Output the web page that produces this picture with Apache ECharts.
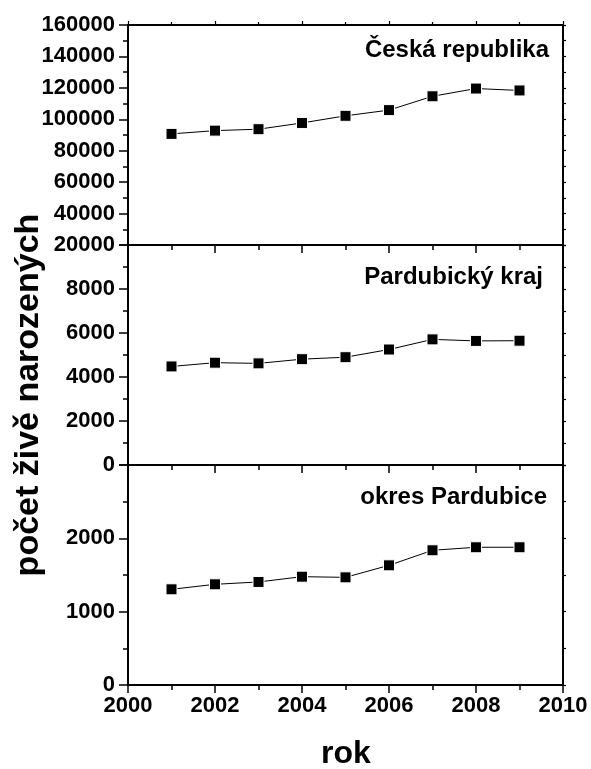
<!DOCTYPE html>
<html>
<head>
<meta charset="utf-8">
<script src="https://cdn.jsdelivr.net/npm/echarts@6/dist/echarts.min.js"></script>
<style>
html,body{margin:0;padding:0;background:#fff;}
#c{width:591px;height:769px;}
</style>
</head>
<body>
<div id="c"></div>
<script>
// Data
const years = [2001, 2002, 2003, 2004, 2005, 2006, 2007, 2008, 2009];
const ceskaRepublika = [90715, 92786, 93685, 97664, 102211, 105831, 114632, 119570, 118348];
const pardubickyKraj = [4480, 4650, 4620, 4810, 4900, 5250, 5710, 5640, 5650];
const okresPardubice = [1305, 1373, 1405, 1477, 1468, 1632, 1837, 1878, 1878];
const panelNames = ['Česká republika', 'Pardubický kraj', 'okres Pardubice'];
const xTitle = 'rok';
const yTitle = 'počet živě narozených';

const FONT = '"Liberation Sans", Arial, sans-serif';
const grids = [
  {left: 128, width: 435, top: 25, height: 220},
  {left: 128, width: 435, top: 245, height: 220},
  {left: 128, width: 435, top: 465, height: 220}
];
const yRanges = [
  {min: 20000, max: 160000, interval: 20000, showMax: true},
  {min: 0, max: 10000, interval: 2000, showMax: false},
  {min: 0, max: 3000, interval: 1000, showMax: false}
];
const seriesData = [ceskaRepublika, pardubickyKraj, okresPardubice];

const lineStyle = {color: '#000', width: 2};
const labelStyle = {color: '#000', fontFamily: FONT, fontWeight: 'bold', fontSize: 22, formatter: v => String(v)};

const xAxes = [], yAxes = [], series = [];
grids.forEach((g, i) => {
  xAxes.push({
    type: 'value', gridIndex: i, min: 2000, max: 2010, interval: 2,
    axisLine: {show: true, onZero: false, lineStyle},
    axisTick: {show: true, inside: false, length: 8, lineStyle: {color: '#000', width: 1.5}},
    minorTick: {show: true, splitNumber: 2, length: 5, lineStyle: {color: '#000', width: 1.5}},
    splitLine: {show: false},
    axisLabel: Object.assign({show: i === 2, margin: 10}, labelStyle)
  });
  xAxes.push({
    type: 'value', gridIndex: i, position: 'top', min: 2000, max: 2010, interval: 2,
    axisLine: {show: true, onZero: false, lineStyle},
    axisTick: {show: i === 0, inside: false, length: 4, lineStyle: {color: '#000', width: 1.2}},
    minorTick: {show: i === 0, splitNumber: 2, length: 3, lineStyle: {color: '#000', width: 1.2}},
    splitLine: {show: false},
    axisLabel: {show: false}
  });
  const r = yRanges[i];
  yAxes.push({
    type: 'value', gridIndex: i, min: r.min, max: r.max, interval: r.interval,
    axisLine: {show: true, onZero: false, lineStyle},
    axisTick: {show: true, inside: false, length: 9, lineStyle: {color: '#000', width: 1.5}},
    minorTick: {show: true, splitNumber: 2, length: 5, lineStyle: {color: '#000', width: 1.5}},
    splitLine: {show: false},
    axisLabel: Object.assign({margin: 13, showMaxLabel: r.showMax, showMinLabel: true}, labelStyle)
  });
  yAxes.push({
    type: 'value', gridIndex: i, position: 'right', min: r.min, max: r.max, interval: r.interval,
    axisLine: {show: true, onZero: false, lineStyle},
    axisTick: {show: true, inside: false, length: 3, lineStyle: {color: '#000', width: 1.2}},
    minorTick: {show: true, splitNumber: 2, length: 3, lineStyle: {color: '#000', width: 1.2}},
    splitLine: {show: false},
    axisLabel: {show: false}
  });
  series.push({
    type: 'line', xAxisIndex: i * 2, yAxisIndex: i * 2,
    data: years.map((y, k) => [y, seriesData[i][k]]),
    symbol: 'rect', symbolSize: 11,
    itemStyle: {color: '#000', borderColor: '#fff', borderWidth: 1},
    lineStyle: {color: '#000', width: 1},
    animation: false
  });
});

const panelLabelPos = [
  {x: 549, y: 50},
  {x: 543, y: 277},
  {x: 547, y: 497}
];
const graphics = panelNames.map((t, i) => ({
  type: 'text', x: panelLabelPos[i].x, y: panelLabelPos[i].y,
  style: {text: t, fill: '#000', font: 'bold 24px ' + FONT, textAlign: 'right', textVerticalAlign: 'middle'}
}));
graphics.push({
  type: 'text', x: 346, y: 754,
  style: {text: xTitle, fill: '#000', font: 'bold 32px ' + FONT, textAlign: 'center', textVerticalAlign: 'middle'}
});
graphics.push({
  type: 'text', x: 29, y: 395, rotation: Math.PI / 2,
  style: {text: yTitle, fill: '#000', font: 'bold 34px ' + FONT, textAlign: 'center', textVerticalAlign: 'middle'}
});

const chart = echarts.init(document.getElementById('c'), null, {renderer: 'canvas'});
chart.setOption({
  backgroundColor: '#fff',
  animation: false,
  grid: grids,
  xAxis: xAxes,
  yAxis: yAxes,
  series: series,
  graphic: graphics
});
</script>
</body>
</html>
